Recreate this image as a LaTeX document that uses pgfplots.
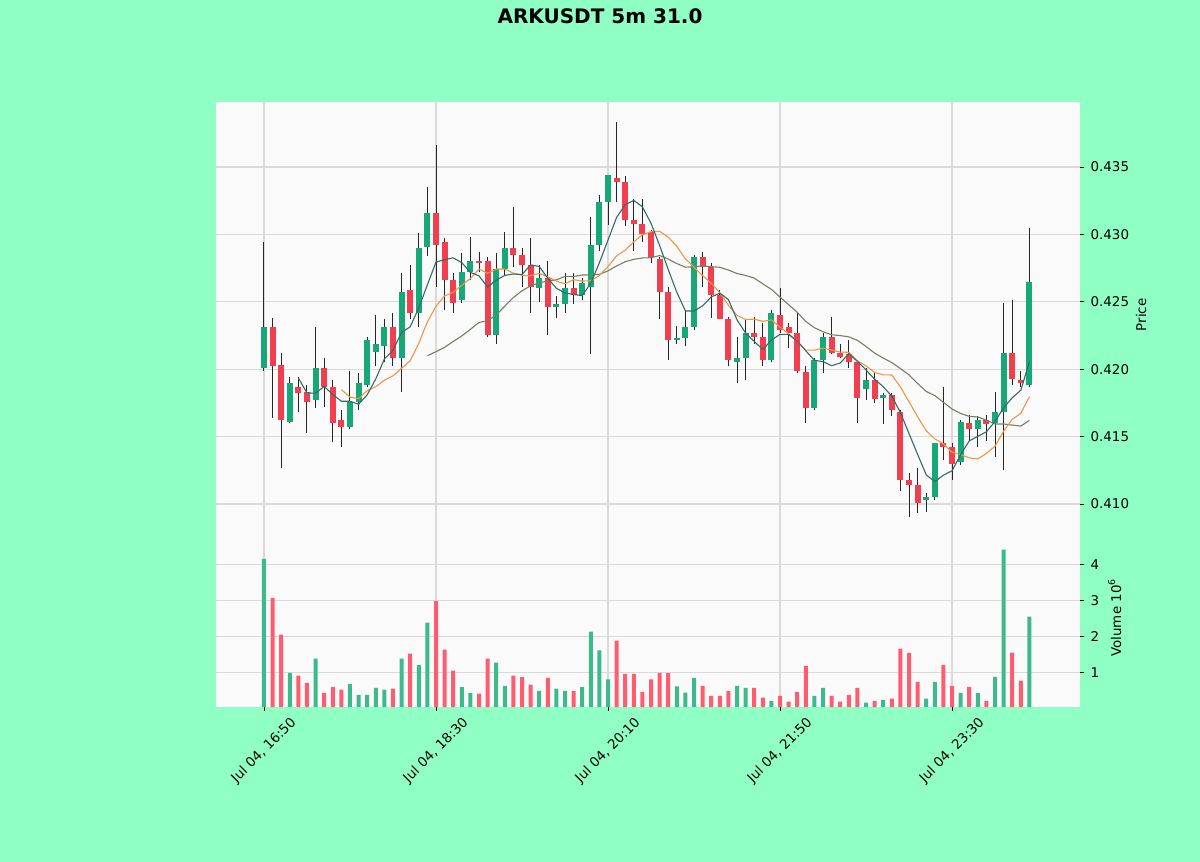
\documentclass[border=0pt]{standalone}
\usepackage{fontspec}
\setmainfont{DejaVu Sans}
\usepackage{pgfplots}
\usepackage{pgfplotstable}
\usetikzlibrary{calc}
\pgfplotsset{compat=1.18}
\pgfdeclarelayer{bg}
\pgfsetlayers{bg,main}
\definecolor{figbg}{RGB}{144,255,196}
\definecolor{axbg}{RGB}{250,250,250}
\definecolor{up}{RGB}{22,168,118}
\definecolor{down}{RGB}{242,62,78}
\definecolor{vup}{RGB}{60,186,140}
\definecolor{vdown}{RGB}{255,92,112}
\definecolor{gridc}{RGB}{218,218,218}
\definecolor{maA}{RGB}{55,105,105}
\definecolor{maB}{RGB}{240,150,70}
\definecolor{maC}{RGB}{115,128,105}

% i open high low close volume(1e6)
\pgfplotstableread{
i o h l c v
0 0.4201 0.4294 0.4199 0.4231 4.16
1 0.4231 0.4238 0.4164 0.4202 3.08
2 0.4203 0.4212 0.4127 0.4162 2.06
3 0.4161 0.4194 0.4160 0.4190 1.00
4 0.4187 0.4194 0.4168 0.4182 0.92
5 0.4183 0.4188 0.4153 0.4176 0.72
6 0.4177 0.4231 0.4171 0.4201 1.39
7 0.4201 0.4208 0.4172 0.4187 0.44
8 0.4187 0.4192 0.4146 0.4160 0.60
9 0.4162 0.4170 0.4142 0.4157 0.53
10 0.4157 0.4199 0.4156 0.4176 0.69
11 0.4176 0.4197 0.4170 0.4190 0.39
12 0.4188 0.4224 0.4187 0.4222 0.39
13 0.4213 0.4240 0.4202 0.4219 0.58
14 0.4217 0.4237 0.4205 0.4231 0.53
15 0.4231 0.4242 0.4202 0.4208 0.56
16 0.4208 0.4271 0.4183 0.4257 1.39
17 0.4259 0.4277 0.4237 0.4242 1.53
18 0.4242 0.4301 0.4231 0.4290 1.22
19 0.4291 0.4335 0.4284 0.4316 2.39
20 0.4316 0.4366 0.4261 0.4292 3.00
21 0.4294 0.4297 0.4244 0.4266 1.64
22 0.4266 0.4271 0.4242 0.4249 1.06
23 0.4251 0.4286 0.4249 0.4272 0.60
24 0.4272 0.4298 0.4266 0.4280 0.44
25 0.4280 0.4287 0.4272 0.4279 0.42
26 0.4280 0.4283 0.4224 0.4225 1.39
27 0.4225 0.4286 0.4219 0.4274 1.28
28 0.4274 0.4302 0.4270 0.4290 0.64
29 0.4290 0.4320 0.4276 0.4285 0.92
30 0.4285 0.4290 0.4261 0.4277 0.88
31 0.4277 0.4297 0.4242 0.4261 0.67
32 0.4260 0.4277 0.4250 0.4268 0.50
33 0.4268 0.4280 0.4225 0.4246 0.86
34 0.4246 0.4254 0.4238 0.4248 0.56
35 0.4248 0.4271 0.4242 0.4260 0.50
36 0.4260 0.4271 0.4248 0.4255 0.50
37 0.4255 0.4268 0.4251 0.4264 0.60
38 0.4261 0.4313 0.4211 0.4292 2.14
39 0.4292 0.4329 0.4288 0.4324 1.62
40 0.4324 0.4344 0.4307 0.4344 0.82
41 0.4342 0.4383 0.4324 0.4339 1.89
42 0.4339 0.4343 0.4306 0.4311 0.97
43 0.4311 0.4326 0.4288 0.4308 0.97
44 0.4308 0.4326 0.4294 0.4300 0.47
45 0.4302 0.4303 0.4279 0.4283 0.82
46 0.4282 0.4283 0.4237 0.4257 1.00
47 0.4257 0.4261 0.4207 0.4222 0.99
48 0.4222 0.4232 0.4219 0.4223 0.62
49 0.4223 0.4244 0.4217 0.4231 0.45
50 0.4231 0.4285 0.4229 0.4283 0.86
51 0.4283 0.4287 0.4261 0.4276 0.64
52 0.4276 0.4279 0.4238 0.4255 0.36
53 0.4255 0.4259 0.4237 0.4237 0.36
54 0.4237 0.4239 0.4202 0.4207 0.50
55 0.4205 0.4224 0.4190 0.4208 0.64
56 0.4208 0.4237 0.4192 0.4227 0.58
57 0.4227 0.4239 0.4219 0.4224 0.58
58 0.4224 0.4234 0.4202 0.4207 0.31
59 0.4207 0.4244 0.4205 0.4242 0.22
60 0.4240 0.4260 0.4227 0.4229 0.36
61 0.4231 0.4234 0.4216 0.4227 0.20
62 0.4227 0.4242 0.4197 0.4199 0.47
63 0.4198 0.4202 0.4160 0.4171 1.19
64 0.4171 0.4208 0.4170 0.4207 0.36
65 0.4207 0.4227 0.4197 0.4224 0.58
66 0.4224 0.4239 0.4211 0.4212 0.36
67 0.4212 0.4219 0.4208 0.4209 0.20
68 0.4211 0.4222 0.4201 0.4205 0.39
69 0.4205 0.4205 0.4160 0.4179 0.58
70 0.4185 0.4201 0.4177 0.4192 0.17
71 0.4192 0.4198 0.4175 0.4178 0.22
72 0.4179 0.4182 0.4159 0.4181 0.25
73 0.4181 0.4182 0.4165 0.4170 0.28
74 0.4168 0.4170 0.4110 0.4118 1.67
75 0.4118 0.4123 0.4090 0.4114 1.55
76 0.4114 0.4127 0.4093 0.4101 0.75
77 0.4103 0.4108 0.4094 0.4105 0.28
78 0.4105 0.4145 0.4103 0.4145 0.75
79 0.4145 0.4187 0.4133 0.4142 1.22
80 0.4142 0.4145 0.4118 0.4130 0.64
81 0.4131 0.4162 0.4129 0.4161 0.44
82 0.4160 0.4166 0.4147 0.4156 0.61
83 0.4156 0.4165 0.4142 0.4162 0.44
84 0.4162 0.4166 0.4147 0.4159 0.22
85 0.4160 0.4183 0.4135 0.4168 0.89
86 0.4168 0.4249 0.4125 0.4212 4.42
87 0.4212 0.4251 0.4188 0.4193 1.56
88 0.4192 0.4199 0.4187 0.4190 0.78
89 0.4188 0.4305 0.4187 0.4265 2.56
}\candles

% moving averages of close (5, 10, 20)
\pgfplotstableread{
i m
4 0.41934
5 0.41824
6 0.41822
7 0.41872
8 0.41812
9 0.41762
10 0.41762
11 0.41740
12 0.41810
13 0.41928
14 0.42076
15 0.42140
16 0.42274
17 0.42314
18 0.42456
19 0.42626
20 0.42794
21 0.42812
22 0.42826
23 0.42790
24 0.42718
25 0.42692
26 0.42610
27 0.42660
28 0.42696
29 0.42706
30 0.42702
31 0.42774
32 0.42762
33 0.42674
34 0.42600
35 0.42566
36 0.42554
37 0.42546
38 0.42638
39 0.42790
40 0.42958
41 0.43126
42 0.43220
43 0.43252
44 0.43204
45 0.43082
46 0.42918
47 0.42740
48 0.42570
49 0.42432
50 0.42432
51 0.42470
52 0.42536
53 0.42564
54 0.42516
55 0.42366
56 0.42268
57 0.42206
58 0.42146
59 0.42216
60 0.42258
61 0.42258
62 0.42208
63 0.42136
64 0.42066
65 0.42056
66 0.42026
67 0.42046
68 0.42114
69 0.42058
70 0.41994
71 0.41926
72 0.41870
73 0.41800
74 0.41678
75 0.41522
76 0.41368
77 0.41216
78 0.41166
79 0.41214
80 0.41246
81 0.41366
82 0.41468
83 0.41502
84 0.41536
85 0.41612
86 0.41714
87 0.41788
88 0.41844
89 0.42056
}\mafive

\pgfplotstableread{
i m
9 0.41848
10 0.41793
11 0.41781
12 0.41841
13 0.41870
14 0.41919
15 0.41951
16 0.42007
17 0.42062
18 0.42192
19 0.42351
20 0.42467
21 0.42543
22 0.42570
23 0.42623
24 0.42672
25 0.42743
26 0.42711
27 0.42743
28 0.42743
29 0.42712
30 0.42697
31 0.42692
32 0.42711
33 0.42685
34 0.42653
35 0.42634
36 0.42664
37 0.42654
38 0.42656
39 0.42695
40 0.42762
41 0.42840
42 0.42883
43 0.42945
44 0.42997
45 0.43020
46 0.43022
47 0.42980
48 0.42911
49 0.42818
50 0.42757
51 0.42694
52 0.42638
53 0.42567
54 0.42474
55 0.42399
56 0.42369
57 0.42371
58 0.42355
59 0.42366
60 0.42312
61 0.42263
62 0.42207
63 0.42141
64 0.42141
65 0.42157
66 0.42142
67 0.42127
68 0.42125
69 0.42062
70 0.42025
71 0.41976
72 0.41958
73 0.41957
74 0.41868
75 0.41758
76 0.41647
77 0.41543
78 0.41483
79 0.41446
80 0.41384
81 0.41367
82 0.41342
83 0.41334
84 0.41375
85 0.41429
86 0.41540
87 0.41628
88 0.41673
89 0.41796
}\maten

\pgfplotstableread{
i m
19 0.420995
20 0.42130
21 0.42162
22 0.422055
23 0.422465
24 0.422955
25 0.42347
26 0.42359
27 0.424025
28 0.424675
29 0.425315
30 0.42582
31 0.426175
32 0.426405
33 0.42654
34 0.426625
35 0.426885
36 0.426875
37 0.426985
38 0.426995
39 0.427035
40 0.427295
41 0.42766
42 0.42797
43 0.42815
44 0.42825
45 0.42827
46 0.42843
47 0.42817
48 0.427835
49 0.427565
50 0.427595
51 0.42767
52 0.427605
53 0.42756
54 0.427355
55 0.427095
56 0.426955
57 0.426755
58 0.42633
59 0.42592
60 0.425345
61 0.424785
62 0.424225
63 0.42354
64 0.423075
65 0.42278
66 0.422555
67 0.42249
68 0.4224
69 0.42214
70 0.421685
71 0.421195
72 0.420825
73 0.42049
74 0.420045
75 0.419575
76 0.418945
77 0.41835
78 0.41804
79 0.41754
80 0.417045
81 0.416715
82 0.4165
83 0.416455
84 0.416215
85 0.415935
86 0.415935
87 0.415855
88 0.41578
89 0.41621
}\matwenty

\newcommand{\tfont}{\fontsize{6.7}{8}\selectfont}

\pgfplotsset{
  common/.style={
    scale only axis, width=432pt,
    xmin=-5.58, xmax=94.88,
    axis background/.style={fill=axbg},
    axis line style={draw=none},
    xtick={0,20,40,60,80},
    grid=major, major grid style={gridc, line width=0.6pt},
    ytick pos=right, yticklabel pos=right,
    tick align=outside, major tick length=1.8pt,
    tick style={black, line width=0.45pt},
    tick label style={font=\tfont},
    label style={font=\tfont},
    /pgf/number format/assume math mode=true,
    scaled y ticks=false, clip=true,
  }
}

\begin{document}
\begin{tikzpicture}

\begin{axis}[common,
  name=price, height=213pt,
  ymin=0.40822, ymax=0.43982,
  ytick={0.410,0.415,0.420,0.425,0.430,0.435},
  yticklabel style={/pgf/number format/.cd, fixed, fixed zerofill, precision=3},
  xticklabels={}, x tick style={draw=none},
  ylabel={Price},
  ylabel style={at={(axis description cs:1.0567,0.5)}, anchor=north},
]
% wicks
\addplot[draw=none, forget plot,
  error bars/.cd, y dir=plus, y explicit, error mark=none,
  error bar style={draw=black!85, line width=0.5pt}]
  table[x=i, y=l, y error plus expr={\thisrow{h}-\thisrow{l}}] {\candles};
% rising bodies
\addplot[draw=none, forget plot,
  error bars/.cd, y dir=plus, y explicit, error mark=none,
  error bar style={draw=up, line width=3pt}]
  table[x=i, y expr={\thisrow{c}>=\thisrow{o} ? \thisrow{o} : nan},
        y error plus expr={max(\thisrow{c}-\thisrow{o},0.00006)}] {\candles};
% falling bodies
\addplot[draw=none, forget plot,
  error bars/.cd, y dir=plus, y explicit, error mark=none,
  error bar style={draw=down, line width=3pt}]
  table[x=i, y expr={\thisrow{c}<\thisrow{o} ? \thisrow{c} : nan},
        y error plus expr={max(\thisrow{o}-\thisrow{c},0.00006)}] {\candles};
% moving averages
\addplot[maC, line width=0.55pt] table[x=i, y=m] {\matwenty};
\addplot[maB, line width=0.55pt] table[x=i, y=m] {\maten};
\addplot[maA, line width=0.55pt] table[x=i, y=m] {\mafive};
\coordinate (pSW) at (rel axis cs:0,0);
\end{axis}

\begin{axis}[common,
  at={(pSW)}, anchor=north west, height=89.5pt,
  ymin=0.05, ymax=5.02,
  ytick={1,2,3,4},
  xtick pos=bottom,
  xticklabels={{Jul 04, 16:50},{Jul 04, 18:30},{Jul 04, 20:10},{Jul 04, 21:50},{Jul 04, 23:30}},
  xticklabel style={rotate=45, anchor=center},
  xticklabel shift=20pt,
  ylabel={Volume  10\textsuperscript{6}},
  ylabel style={at={(axis description cs:1.0243,0.5)}, anchor=north},
]
\addplot[ybar, bar width=2pt, bar shift=0pt, fill=vup, draw=none]
  table[x=i, y expr={\thisrow{c}>=\thisrow{o} ? \thisrow{v} : nan}] {\candles};
\addplot[ybar, bar width=2pt, bar shift=0pt, fill=vdown, draw=none]
  table[x=i, y expr={\thisrow{c}<\thisrow{o} ? \thisrow{v} : nan}] {\candles};
\end{axis}

\begin{pgfonlayer}{bg}
\fill[figbg] ($(pSW)+(-108pt,-167pt)$) rectangle ($(pSW)+(492pt,264pt)$);
\end{pgfonlayer}
\node[font=\fontsize{10}{12}\selectfont\bfseries] at ($(pSW)+(192pt,256pt)$) {ARKUSDT 5m 31.0};

\pgfresetboundingbox
\useasboundingbox ($(pSW)+(-108pt,-167pt)$) rectangle ($(pSW)+(492pt,264pt)$);
\end{tikzpicture}
\end{document}
